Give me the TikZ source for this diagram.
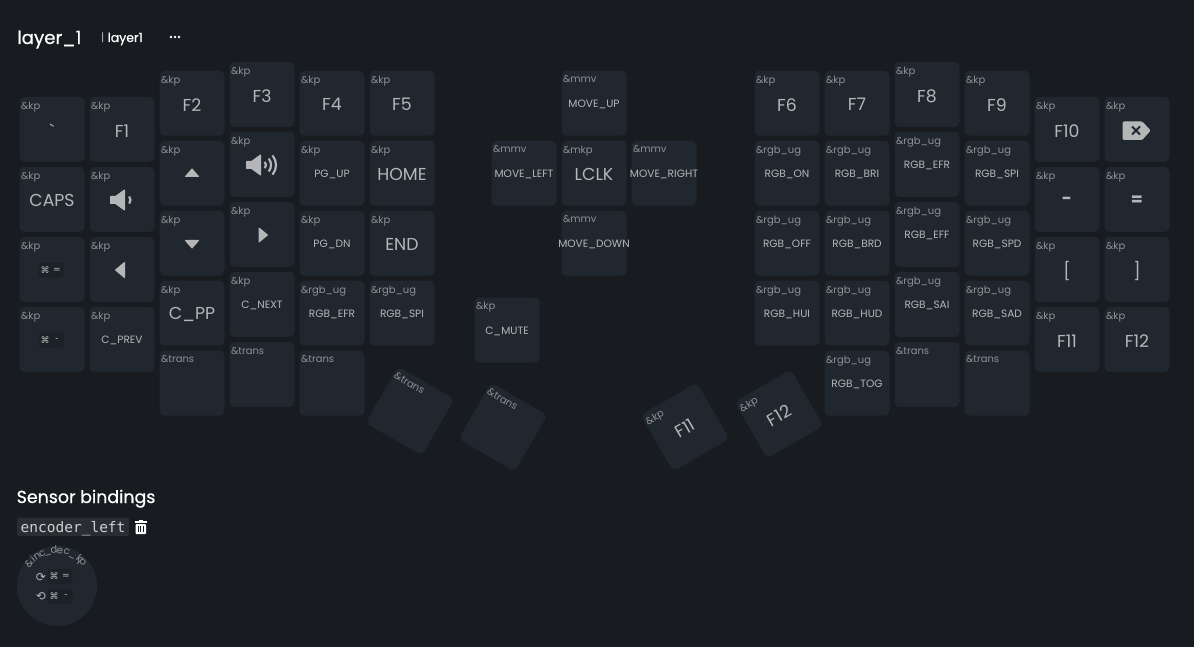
\documentclass[tikz,border=0pt]{standalone}
\usepackage{fontspec}
\setmainfont{Poppins}
\newfontfamily\rawfont{Poppins}
\newfontfamily\headfont[FakeBold=0.6]{Poppins}
\newfontfamily\symfont{DejaVu Sans}
\newfontfamily\codefont{DejaVu Sans Mono}
\definecolor{pagebg}{HTML}{181C21}
\definecolor{capbg}{HTML}{21272F}
\definecolor{chipbg}{HTML}{1C2127}
\definecolor{codebg}{HTML}{2A2E33}
\definecolor{capfg}{HTML}{B4B6B8}
\definecolor{codefg}{HTML}{CDCFD0}
\definecolor{bindfg}{HTML}{8E9296}
\tikzset{
  keycap/.style={fill=capbg, rounded corners=5pt, minimum size=65pt, inner sep=0pt},
  legend/.style={inner sep=0pt, text=capfg},
  bigcap/.style={font=\fontsize{17.3}{18}\selectfont},
  smallcap/.style={font=\fontsize{10.6}{11}\selectfont},
  bindtext/.style={anchor=north west, inner xsep=1.5pt, inner ysep=5pt, text=bindfg, font=\fontsize{10}{10}\selectfont},
  iconfill/.style={fill=capfg, draw=capfg, line width=1pt, line join=round},
  iconarc/.style={draw=capfg, line width=2.2pt},
  chip/.style={fill=chipbg, rounded corners=3pt, minimum width=25pt, minimum height=15pt, inner sep=0pt},
  chiptext/.style={text=capfg, inner sep=0pt, font=\symfont\fontsize{9}{9}\selectfont},
  heading/.style={anchor=base west, inner sep=0pt, text=white}
}
% one key: [rotation]{name}{x}{y}{binding}{size style}{legend}
\newcommand{\keyat}[7][0]{%
  \node[keycap, rotate=#1] (#2) at (#3,#4) {};
  \node[bindtext, rotate=#1] (#2b) at (#2.north west) {#5};
  \node[legend, #6, rotate=#1] (#2t) at ([yshift=-1.5pt]#2.center) {#7};
}
% command + key chips centred on a coordinate
\newcommand{\chipat}[4]{%
  \node[chip] (#1c) at (#2,#3) {};
  \node[chiptext] (#1m) at ([xshift=-6pt]#1c.center) {⌘};
  \node[chiptext] (#1k) at ([xshift=6pt]#1c.center) {#4};
}
\newcommand{\speakerat}[1]{%
  \fill[iconfill, shift={(#1)}] (0.5,-3.5) -- (5.5,-3.5) -- (14.5,-10) -- (14.5,10) -- (5.5,3.5) -- (0.5,3.5) -- cycle;
}
\begin{document}
\begin{tikzpicture}[x=1pt, y=-1pt]
   \useasboundingbox[fill=pagebg] (0,0) rectangle (1194,647);
   % header
   \node[heading, font=\headfont\fontsize{18.2}{19}\selectfont] (title) at (17,44) {layer\_1};
   \node[heading, text=capfg, font=\fontsize{11}{11}\selectfont] (bar) at (101,42) {|};
   \node[heading, font=\headfont\fontsize{12.5}{12}\selectfont] (name) at (107.5,42) {layer1};
   \foreach \dotx in {171,175,179}
      \fill[white] (\dotx,37) circle (1.4);
   % left hand
   \keyat{k00}{52}{129.4}{\&kp}{bigcap}{\raisebox{-7pt}{\rawfont`}}
   \keyat{k01}{122}{129.4}{\&kp}{bigcap}{F1}
   \keyat{k02}{192}{103.2}{\&kp}{bigcap}{F2}
   \keyat{k03}{262}{94.4}{\&kp}{bigcap}{F3}
   \keyat{k04}{332}{103.2}{\&kp}{bigcap}{F4}
   \keyat{k05}{402}{103.2}{\&kp}{bigcap}{F5}
   \keyat{k10}{52}{199.4}{\&kp}{bigcap}{CAPS}
   \keyat{k11}{122}{199.4}{\&kp}{bigcap}{}
   \keyat{k12}{192}{173.2}{\&kp}{bigcap}{}
   \keyat{k13}{262}{164.4}{\&kp}{bigcap}{}
   \keyat{k14}{332}{173.2}{\&kp}{smallcap}{PG\_UP}
   \keyat{k15}{402}{173.2}{\&kp}{bigcap}{HOME}
   \keyat{k20}{52}{269.4}{\&kp}{bigcap}{}
   \keyat{k21}{122}{269.4}{\&kp}{bigcap}{}
   \keyat{k22}{192}{243.2}{\&kp}{bigcap}{}
   \keyat{k23}{262}{234.4}{\&kp}{bigcap}{}
   \keyat{k24}{332}{243.2}{\&kp}{smallcap}{PG\_DN}
   \keyat{k25}{402}{243.2}{\&kp}{bigcap}{END}
   \keyat{k30}{52}{339.4}{\&kp}{bigcap}{}
   \keyat{k31}{122}{339.4}{\&kp}{smallcap}{C\_PREV}
   \keyat{k32}{192}{313.2}{\&kp}{bigcap}{C\_PP}
   \keyat{k33}{262}{304.4}{\&kp}{smallcap}{C\_NEXT}
   \keyat{k34}{332}{313.2}{\&rgb\_ug}{smallcap}{RGB\_EFR}
   \keyat{k35}{402}{313.2}{\&rgb\_ug}{smallcap}{RGB\_SPI}
   \keyat{k42}{192}{383.2}{\&trans}{bigcap}{}
   \keyat{k43}{262}{374.4}{\&trans}{bigcap}{}
   \keyat{k44}{332}{383.2}{\&trans}{bigcap}{}
   \keyat[-30]{t0}{410}{411}{\&trans}{bigcap}{}
   \keyat[-30]{t1}{503}{427}{\&trans}{bigcap}{}
   \keyat{mute}{507}{330}{\&kp}{smallcap}{C\_MUTE}
   % mouse keys
   \keyat{mup}{594}{103.2}{\&mmv}{smallcap}{MOVE\_UP}
   \keyat{mleft}{524}{173.2}{\&mmv}{smallcap}{MOVE\_LEFT}
   \keyat{lclk}{594}{173.2}{\&mkp}{bigcap}{LCLK}
   \keyat{mright}{664}{173.2}{\&mmv}{smallcap}{MOVE\_RIGHT}
   \keyat{mdown}{594}{243.2}{\&mmv}{smallcap}{MOVE\_DOWN}
   % right hand
   \keyat[30]{t2}{685}{427}{\&kp}{bigcap}{F11}
   \keyat[30]{t3}{779}{414}{\&kp}{bigcap}{F12}
   \keyat{r06}{787}{103.2}{\&kp}{bigcap}{F6}
   \keyat{r07}{857}{103.2}{\&kp}{bigcap}{F7}
   \keyat{r08}{927}{94.4}{\&kp}{bigcap}{F8}
   \keyat{r09}{997}{103.2}{\&kp}{bigcap}{F9}
   \keyat{r0a}{1067}{129.4}{\&kp}{bigcap}{F10}
   \keyat{r0b}{1137}{129.4}{\&kp}{bigcap}{}
   \keyat{r16}{787}{173.2}{\&rgb\_ug}{smallcap}{RGB\_ON}
   \keyat{r17}{857}{173.2}{\&rgb\_ug}{smallcap}{RGB\_BRI}
   \keyat{r18}{927}{164.4}{\&rgb\_ug}{smallcap}{RGB\_EFR}
   \keyat{r19}{997}{173.2}{\&rgb\_ug}{smallcap}{RGB\_SPI}
   \keyat{r1a}{1067}{199.4}{\&kp}{bigcap}{\bfseries -}
   \keyat{r1b}{1137}{199.4}{\&kp}{bigcap}{\raisebox{-1pt}{\bfseries =}}
   \keyat{r26}{787}{243.2}{\&rgb\_ug}{smallcap}{RGB\_OFF}
   \keyat{r27}{857}{243.2}{\&rgb\_ug}{smallcap}{RGB\_BRD}
   \keyat{r28}{927}{234.4}{\&rgb\_ug}{smallcap}{RGB\_EFF}
   \keyat{r29}{997}{243.2}{\&rgb\_ug}{smallcap}{RGB\_SPD}
   \keyat{r2a}{1067}{269.4}{\&kp}{bigcap}{\raisebox{-3pt}{[}}
   \keyat{r2b}{1137}{269.4}{\&kp}{bigcap}{\raisebox{-3pt}{]}}
   \keyat{r36}{787}{313.2}{\&rgb\_ug}{smallcap}{RGB\_HUI}
   \keyat{r37}{857}{313.2}{\&rgb\_ug}{smallcap}{RGB\_HUD}
   \keyat{r38}{927}{304.4}{\&rgb\_ug}{smallcap}{RGB\_SAI}
   \keyat{r39}{997}{313.2}{\&rgb\_ug}{smallcap}{RGB\_SAD}
   \keyat{r3a}{1067}{339.4}{\&kp}{bigcap}{F11}
   \keyat{r3b}{1137}{339.4}{\&kp}{bigcap}{F12}
   \keyat{r47}{857}{383.2}{\&rgb\_ug}{smallcap}{RGB\_TOG}
   \keyat{r48}{927}{374.4}{\&trans}{bigcap}{}
   \keyat{r49}{997}{383.2}{\&trans}{bigcap}{}
   % command chips
   \chipat{cmdeq}{51}{270}{=}
   \chipat{cmdmin}{51}{340}{-}
   % icons
   \speakerat{110,200}
   \draw[iconarc] (129.2,196.5) arc (-40:40:5.5);
   \speakerat{246,165}
   \draw[iconarc] (264.8,161.8) arc (-40:40:5);
   \draw[iconarc] (268.7,158.6) arc (-40:40:10);
   \draw[iconarc] (272.5,155.4) arc (-40:40:15);
   \fill[iconfill] (192,169) -- (198.5,176.5) -- (185.5,176.5) -- cycle;
   \fill[iconfill] (192,248) -- (198.5,240.5) -- (185.5,240.5) -- cycle;
   \fill[iconfill] (267.5,235) -- (259,228) -- (259,242) -- cycle;
   \fill[iconfill] (115.5,270) -- (124.5,262.5) -- (124.5,277.5) -- cycle;
   \fill[iconfill, rounded corners=1pt] (1123,122) -- (1142,122) -- (1150,130.5) -- (1142,139.5) -- (1123,139.5) -- cycle;
   \draw[capbg, line width=2pt] (1132,126.5) -- (1140,134.5) (1132,134.5) -- (1140,126.5);
   % sensor bindings
   \node[heading, font=\headfont\fontsize{17.4}{19}\selectfont] (sensors) at (16.5,503) {Sensor bindings};
   \fill[codebg, rounded corners=2pt] (17,517.5) rectangle (129,536);
   \node[heading, text=codefg, font=\codefont\fontsize{14.5}{15}\selectfont] (encoder) at (20.5,532) {encoder\_left};
   % trash can
   \fill[white] (134.5,521) rectangle (147,523);
   \fill[white] (138.5,519.5) rectangle (143,521);
   \fill[white, rounded corners=1pt] (135.5,524) rectangle (146,534);
   \foreach \barx in {138.5,140.8,143}
      \draw[pagebg, line width=0.8pt] (\barx,526) -- (\barx,532);
   % rotary
   \node[circle, fill=capbg, minimum size=80pt, inner sep=0pt] (rotary) at (57,586) {};
   \foreach \ch/\ang in {\&/141,i/132,n/124,c/115,\_/106,d/95,e/85,c/74,\_/63,k/51,p/43}
      \node[inner sep=0pt, anchor=base, text=bindfg, rotate=\ang-90, font=\fontsize{10}{10}\selectfont] (arc\ang) at ({57+32.5*cos(\ang)},{586-32.5*sin(\ang)}) {\ch};
   \node[chiptext, font=\symfont\fontsize{12}{12}\selectfont] (cwicon) at (41,577) {⟳};
   \node[chiptext, font=\symfont\fontsize{12}{12}\selectfont] (ccwicon) at (41,597) {⟲};
   \chipat{rotcw}{60}{576.5}{=}
   \chipat{rotccw}{60}{596.5}{-}
\end{tikzpicture}
\end{document}
